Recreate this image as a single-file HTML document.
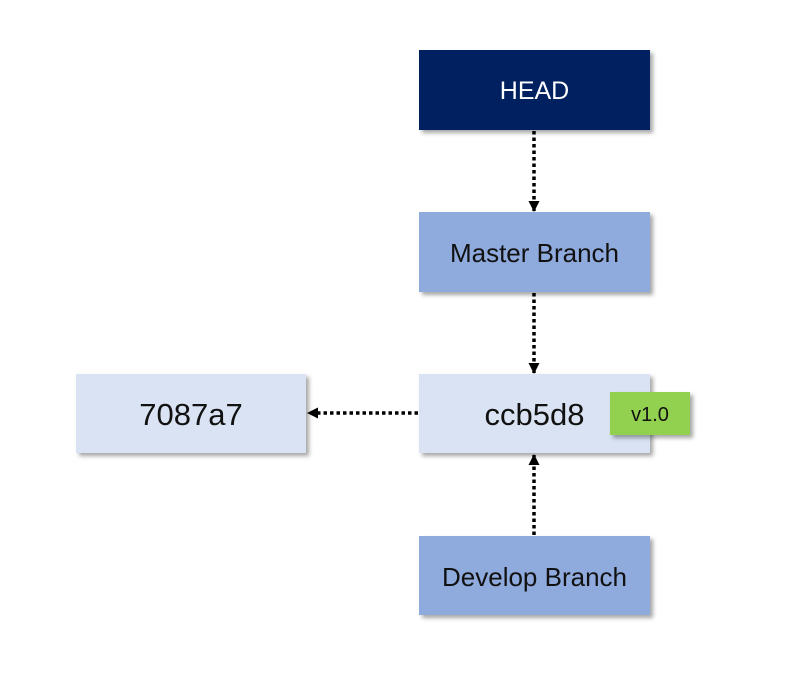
<!DOCTYPE html>
<html><head><style>
body{margin:0;width:800px;height:682px;background:#fff;position:relative;overflow:hidden;font-family:"Liberation Sans",sans-serif}
.b{position:absolute;display:flex;align-items:center;justify-content:center;box-shadow:3px 3px 4px rgba(0,0,0,0.35);color:#111;padding-top:3px;box-sizing:border-box}
</style></head><body>
<svg width="800" height="682" style="position:absolute;left:0;top:0">
<defs><marker id="a" markerWidth="11" markerHeight="11" refX="10" refY="5.5" orient="auto" markerUnits="userSpaceOnUse"><path d="M0,0 L11,5.5 L0,11z" fill="#000"/></marker></defs>
<g stroke="#000" stroke-width="3.5" stroke-dasharray="3.5,3" fill="none">
<line x1="534" y1="131" x2="534" y2="211" marker-end="url(#a)"/>
<line x1="534" y1="293" x2="534" y2="373" marker-end="url(#a)"/>
<line x1="534" y1="535" x2="534" y2="455" marker-end="url(#a)"/>
<line x1="418" y1="413" x2="308" y2="413" marker-end="url(#a)"/>
</g></svg>
<div class="b" style="left:419px;top:50px;width:231px;height:80px;background:#002060;color:#fff;font-size:25px">HEAD</div>
<div class="b" style="left:419px;top:212px;width:231px;height:80px;background:#8faadc;font-size:26px">Master Branch</div>
<div class="b" style="left:419px;top:374px;width:231px;height:79px;background:#dae3f3;font-size:31px">ccb5d8</div>
<div class="b" style="left:76px;top:374px;width:230px;height:79px;background:#dae3f3;font-size:31px">7087a7</div>
<div class="b" style="left:419px;top:536px;width:231px;height:79px;background:#8faadc;font-size:26px">Develop Branch</div>
<div class="b" style="left:610px;top:392px;width:80px;height:43px;background:#92d050;font-size:20px">v1.0</div>
</body></html>
